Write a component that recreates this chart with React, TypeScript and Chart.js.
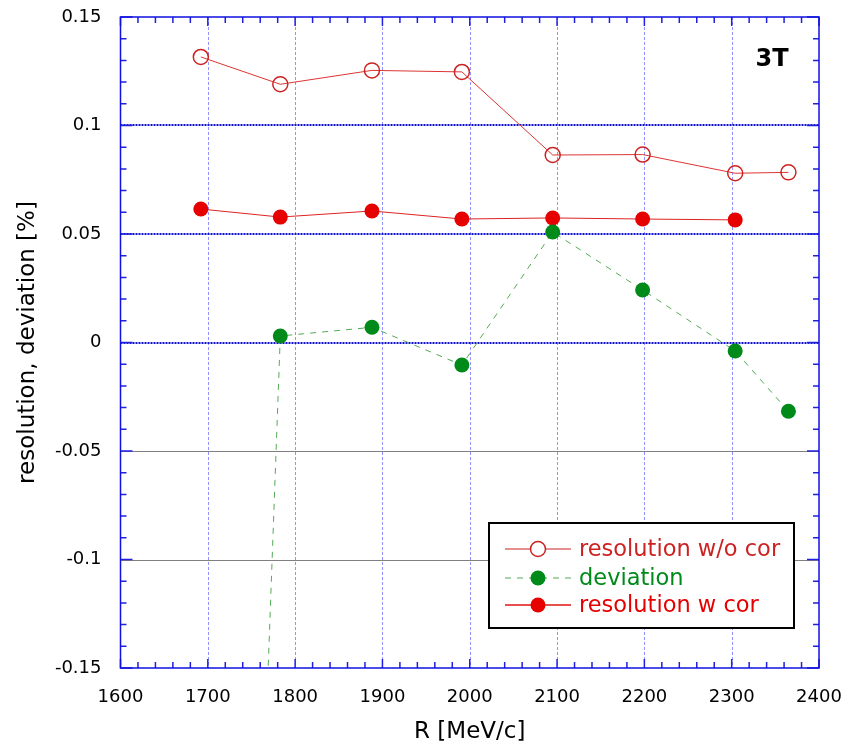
import React, { useEffect, useRef } from "react";
import { Chart, registerables } from "chart.js";

Chart.register(...registerables);

const rValues = [1692, 1783, 1888, 1991, 2095, 2198, 2304, 2365];
const resWithoutCor = [0.1316, 0.119, 0.1254, 0.1247, 0.0864, 0.0866, 0.078, 0.0784];
const deviationR = [1692, 1783, 1888, 1991, 2095, 2198, 2304, 2365];
const deviation = [-1.0, 0.003, 0.007, -0.0104, 0.0509, 0.0242, -0.0039, -0.0317];
const rWithCor = [1692, 1783, 1888, 1991, 2095, 2198, 2304];
const resWithCor = [0.0615, 0.0578, 0.0606, 0.0569, 0.0574, 0.0569, 0.0565];

const xTicks = [1600, 1700, 1800, 1900, 2000, 2100, 2200, 2300, 2400];
const yTicks = [-0.15, -0.1, -0.05, 0, 0.05, 0.1, 0.15];
const blueGridY = [0, 0.05, 0.1];
const blackGridY = [-0.05, -0.1];

const legendLabels = ["resolution w/o cor", "deviation", "resolution w cor"];
const annotationText = "3T";

const FONT = "'DejaVu Sans', sans-serif";

const RED_OPEN = "#cc2222";
const RED_FILL = "#e60000";
const GREEN = "#008a1a";

const framePlugin = {
  id: "frame",
  beforeDatasetsDraw(chart: any) {
    const { ctx, chartArea: a, scales } = chart;
    const xs = scales.x;
    const ys = scales.y;
    ctx.save();
    // vertical grid
    ctx.strokeStyle = "rgba(100,100,255,0.7)";
    ctx.lineWidth = 1;
    ctx.setLineDash([3, 2]);
    xTicks.forEach((v) => {
      if (v <= xTicks[0] || v >= xTicks[xTicks.length - 1]) return;
      const px = Math.round(xs.getPixelForValue(v)) + 0.5;
      ctx.beginPath();
      ctx.moveTo(px, a.top);
      ctx.lineTo(px, a.bottom);
      ctx.stroke();
    });
    // blue horizontal
    ctx.strokeStyle = "#1010d0";
    ctx.lineWidth = 2;
    ctx.setLineDash([2, 1]);
    blueGridY.forEach((v) => {
      const py = Math.round(ys.getPixelForValue(v));
      ctx.beginPath();
      ctx.moveTo(a.left, py);
      ctx.lineTo(a.right, py);
      ctx.stroke();
    });
    ctx.strokeStyle = "#000000";
    ctx.lineWidth = 1;
    ctx.setLineDash([1, 1]);
    blackGridY.forEach((v) => {
      const py = Math.round(ys.getPixelForValue(v)) + 0.5;
      ctx.beginPath();
      ctx.moveTo(a.left, py);
      ctx.lineTo(a.right, py);
      ctx.stroke();
    });
    ctx.setLineDash([]);
    // minor ticks
    ctx.strokeStyle = "#2020e0";
    ctx.lineWidth = 1.5;
    for (let v = xTicks[0]; v <= xTicks[xTicks.length - 1] + 0.001; v += 20) {
      const px = xs.getPixelForValue(v);
      const major = Math.abs(v % 100) < 0.001;
      const len = major ? 9 : 6;
      ctx.beginPath();
      ctx.moveTo(px, a.bottom);
      ctx.lineTo(px, a.bottom - len);
      ctx.moveTo(px, a.top);
      ctx.lineTo(px, a.top + len);
      ctx.stroke();
    }
    for (let i = -15; i <= 15; i++) {
      const v = i / 100;
      const py = ys.getPixelForValue(v);
      const major = i % 5 === 0;
      const len = major ? 12 : 6;
      ctx.beginPath();
      ctx.moveTo(a.left, py);
      ctx.lineTo(a.left + len, py);
      ctx.moveTo(a.right, py);
      ctx.lineTo(a.right - len, py);
      ctx.stroke();
    }
    // frame
    ctx.strokeStyle = "#1010e0";
    ctx.lineWidth = 1.5;
    ctx.strokeRect(a.left, a.top, a.right - a.left, a.bottom - a.top);
    ctx.restore();
  },
  afterDraw(chart: any) {
    const { ctx, chartArea: a } = chart;
    ctx.save();
    // 3T
    ctx.fillStyle = "#000";
    ctx.font = `bold 24px ${FONT}`;
    ctx.textAlign = "center";
    ctx.textBaseline = "middle";
    ctx.fillText(annotationText, a.right - 47, a.top + 43);
    // legend
    const bx = a.right - 330;
    const by = a.bottom - 145;
    const bw = 305;
    const bh = 105;
    ctx.fillStyle = "#fff";
    ctx.fillRect(bx, by, bw, bh);
    ctx.strokeStyle = "#000";
    ctx.lineWidth = 2;
    ctx.strokeRect(bx, by, bw, bh);
    const rows = [by + 26, by + 55, by + 82];
    const colors = [RED_OPEN, GREEN, RED_FILL];
    const lineCols = ["#cc2222", "#55aa55", "#e85050"];
    const dashes = [[], [6, 6], []];
    const lx0 = bx + 16;
    const lx1 = bx + 82;
    const mx = bx + 49;
    ctx.font = `22.5px ${FONT}`;
    ctx.textAlign = "left";
    ctx.textBaseline = "middle";
    rows.forEach((y, i) => {
      ctx.strokeStyle = lineCols[i];
      ctx.lineWidth = i === 2 ? 2 : 1;
      ctx.setLineDash(dashes[i]);
      ctx.beginPath();
      ctx.moveTo(lx0, y);
      ctx.lineTo(lx1, y);
      ctx.stroke();
      ctx.setLineDash([]);
      ctx.beginPath();
      ctx.arc(mx, y, 7.5, 0, Math.PI * 2);
      if (i === 0) {
        ctx.fillStyle = "#fff";
        ctx.fill();
        ctx.strokeStyle = RED_OPEN;
        ctx.lineWidth = 1.5;
        ctx.stroke();
      } else {
        ctx.fillStyle = colors[i];
        ctx.fill();
      }
      ctx.fillStyle = colors[i];
      ctx.fillText(legendLabels[i], bx + 90, y + 1);
    });
    ctx.restore();
  },
};

export default function App() {
  const ref = useRef<HTMLCanvasElement | null>(null);
  useEffect(() => {
    if (!ref.current) return;
    const chart = new Chart(ref.current, {
      type: "line",
      data: {
        datasets: [
          {
            label: legendLabels[0],
            data: rValues.map((x, i) => ({ x, y: resWithoutCor[i] })),
            borderColor: "#dd3333",
            borderWidth: 1,
            pointRadius: 7.5,
            pointBorderWidth: 1.5,
            pointBorderColor: RED_OPEN,
            pointBackgroundColor: "rgba(0,0,0,0)",
            backgroundColor: "rgba(0,0,0,0)",
            tension: 0,
          },
          {
            label: legendLabels[1],
            data: deviationR.map((x, i) => ({ x, y: deviation[i] })),
            borderColor: "#55aa55",
            borderWidth: 1,
            borderDash: [6, 6],
            pointRadius: 7.5,
            pointBorderWidth: 0,
            pointBackgroundColor: GREEN,
            pointBorderColor: GREEN,
            tension: 0,
          },
          {
            label: legendLabels[2],
            data: rWithCor.map((x, i) => ({ x, y: resWithCor[i] })),
            borderColor: "#dd2222",
            borderWidth: 1,
            pointRadius: 7.5,
            pointBorderWidth: 0,
            pointBackgroundColor: RED_FILL,
            pointBorderColor: RED_FILL,
            tension: 0,
          },
        ],
      },
      options: {
        animation: false,
        responsive: false,
        layout: { padding: { left: 0, right: 26, top: 17, bottom: 0 } },
        plugins: { legend: { display: false }, tooltip: { enabled: false } },
        scales: {
          x: {
            type: "linear",
            min: 1600,
            max: 2400,
            afterFit: (s: any) => {
              s.height = 78;
              s.paddingLeft = 0;
              s.paddingRight = 0;
            },
            ticks: {
              stepSize: 100,
              color: "#000",
              font: { family: FONT, size: 18 },
              padding: 11,
              maxRotation: 0,
              callback: (v: any) => String(v),
            },
            grid: { display: false },
            border: { display: false },
            title: {
              display: true,
              text: "R [MeV/c]",
              color: "#000",
              font: { family: FONT, size: 23 },
              padding: { top: 2, bottom: 0 },
            },
          },
          y: {
            type: "linear",
            min: -0.15,
            max: 0.15,
            afterFit: (s: any) => {
              s.width = 120.5;
              s.paddingTop = 0;
              s.paddingBottom = 0;
            },
            ticks: {
              stepSize: 0.05,
              color: "#000",
              font: { family: FONT, size: 18 },
              padding: 11,
              callback: (v: any) => String(Number(Number(v).toFixed(2))),
            },
            grid: { display: false },
            border: { display: false },
            title: {
              display: true,
              text: "resolution, deviation [%]",
              color: "#000",
              font: { family: FONT, size: 23 },
              padding: { top: 14, bottom: 0 },
            },
          },
        },
      },
      plugins: [framePlugin],
    });
    return () => chart.destroy();
  }, []);
  return (
    <div style={{ position: "fixed", left: 0, top: 0, width: 845, height: 746, background: "#fff" }}>
      <canvas ref={ref} width={845} height={746} style={{ width: 845, height: 746 }} />
    </div>
  );
}
